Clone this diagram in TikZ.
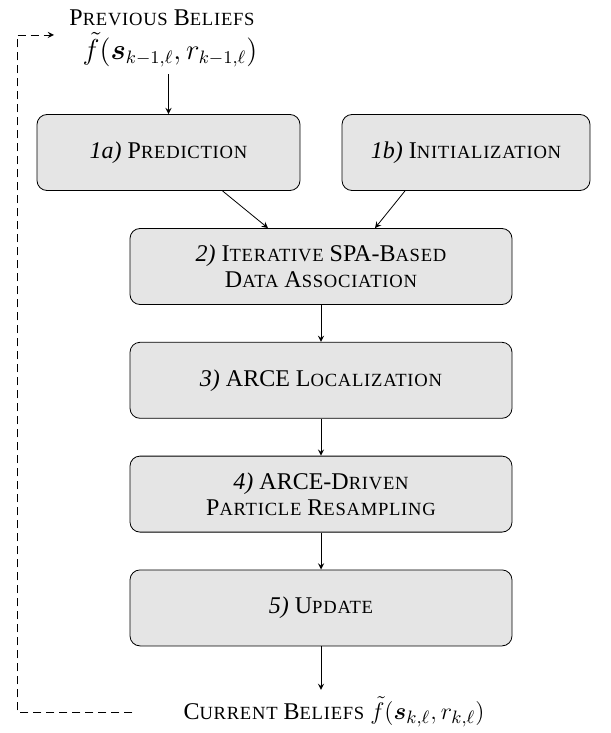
\documentclass[tikz,border=0pt]{standalone}
\usepackage{amsmath,bm}
\usepackage{fontspec}
\setmainfont{Liberation Serif}
\usetikzlibrary{arrows,calc,positioning}
\newcommand{\fsc}[2]{#1{\fontsize{9.3pt}{11pt}\selectfont\addfontfeature{LetterSpace=4}#2}}
\newcommand{\belief}[1]{{\fontsize{13pt}{15pt}\selectfont$#1$}}

\begin{document}
\begin{tikzpicture}[x=0.5pt,y=-0.5pt,>=stealth,node distance=18.5pt,align=center,
		font=\fontsize{12pt}{13pt}\selectfont,
		block/.style={draw,rounded corners=5pt,fill=gray!20,minimum height=38pt,inner sep=2pt},
		wideblock/.style={block,minimum width=191pt}]
			\useasboundingbox (0,0) rectangle (610,733);
			\node (prevtitle) at (162,18) {\fsc{P}{REVIOUS} \fsc{B}{ELIEFS}};
			\node (prevf) at (170,50) {{\fontsize{13.5pt}{15pt}\selectfont$\tilde{f}(\bm{s}_{k-1,\ell},r_{k-1,\ell})$}};
			\node[block,minimum width=131.5pt] (pred) at (168.5,152.5) {\textit{1a)} \fsc{P}{REDICTION}};
			\node[block,minimum width=124pt] (init) at (466,152.5) {\textit{1b)} \fsc{I}{NITIALIZATION}};
			\node[wideblock] (assoc) at (321,266.5) {\textit{2)} \fsc{I}{TERATIVE} SPA-\fsc{B}{ASED}\\\fsc{D}{ATA} \fsc{A}{SSOCIATION}};
			\node[wideblock,below=of assoc] (loc) {\textit{3)} ARCE \fsc{L}{OCALIZATION}};
			\node[wideblock,below=of loc] (resamp) {\textit{4)} ARCE-\fsc{D}{RIVEN}\\\fsc{P}{ARTICLE} \fsc{R}{ESAMPLING}};
			\node[wideblock,below=of resamp] (upd) {\textit{5)} \fsc{U}{PDATE}};
			\node (curr) at (334,712) {\fsc{C}{URRENT} \fsc{B}{ELIEFS} \belief{\tilde{f}(\bm{s}_{k,\ell},r_{k,\ell})}};
			\coordinate (loopx) at (17,0);
			\coordinate (loopin) at (54,35);
			\draw[->] (prevf.south -| pred.north) -- (pred.north);
			\draw[->] ([xshift=27pt]pred.south) -- ([xshift=-26.5pt]assoc.north);
			\draw[->] ([xshift=-30.5pt]init.south) -- ([xshift=27pt]assoc.north);
			\draw[->] (assoc) -- (loc);
			\draw[->] (loc) -- (resamp);
			\draw[->] (resamp) -- (upd);
			\draw[->] (upd.south) -- (upd.south |- curr.north);
			\draw[dash pattern=on 4pt off 2.5pt,->] ([xshift=-22pt]curr.west) -| (loopx |- loopin) -- (loopin);
		\end{tikzpicture}
\end{document}
